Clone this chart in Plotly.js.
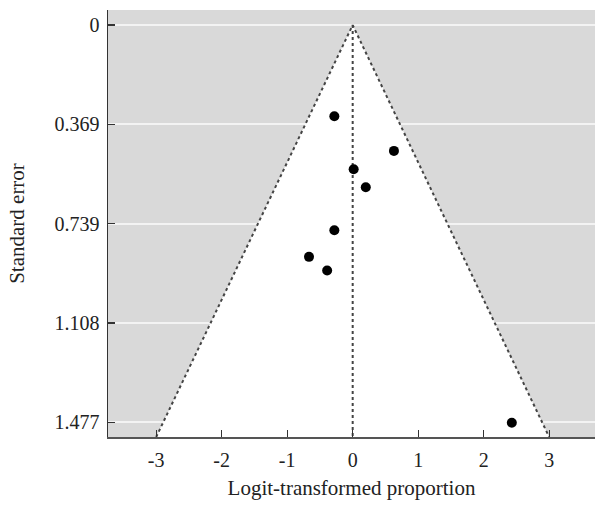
<!DOCTYPE html>
<html>
<head>
<meta charset="utf-8">
<script src="https://cdn.plot.ly/plotly-3.0.1.min.js"></script>
<style>html,body{margin:0;padding:0;background:#fff;}#chart{width:595px;height:509px;}</style>
</head>
<body>
<div id="chart"></div>
<script>
// Study points: logit-transformed proportion vs standard error
const studyLogit = [-0.28, 0.63, 0.015, 0.20, -0.28, -0.667, -0.39, 2.43];
const studySE    = [0.339, 0.468, 0.536, 0.603, 0.763, 0.862, 0.913, 1.479];

// Pseudo-confidence funnel (apex at pooled estimate, base at bottom of axis)
const funnelSE    = [1.532, 0, 1.532];
const funnelLogit = [-3.0, 0, 3.0];
const pooledLogit = [0, 0];
const pooledSE    = [0, 1.532];

// Axis ticks
const yTickVals = [0, 0.369, 0.739, 1.108, 1.477];
const yTickText = ['0', '0.369', '0.739', '1.108', '1.477'];
const xTickVals = [-3, -2, -1, 0, 1, 2, 3];
const xTickText = ['-3', '-2', '-1', '0', '1', '2', '3'];

const font = '"Liberation Serif", "Times New Roman", serif';

const traces = [
  {
    x: funnelLogit, y: funnelSE, type: 'scatter', mode: 'lines',
    fill: 'toself', fillcolor: '#ffffff',
    line: {color: '#444444', width: 2, dash: 'dot'},
    hoverinfo: 'skip', showlegend: false
  },
  {
    x: pooledLogit, y: pooledSE, type: 'scatter', mode: 'lines',
    line: {color: '#444444', width: 2, dash: 'dot'},
    hoverinfo: 'skip', showlegend: false
  },
  {
    x: studyLogit, y: studySE, type: 'scatter', mode: 'markers',
    marker: {color: '#000000', size: 10},
    showlegend: false
  }
];

const layout = {
  width: 595, height: 509,
  margin: {l: 108, r: 0, t: 10, b: 72},
  paper_bgcolor: '#ffffff',
  plot_bgcolor: '#d9d9d9',
  font: {family: font, size: 20, color: '#222222'},
  showlegend: false,
  xaxis: {
    range: [-3.736, 3.70],
    tickvals: xTickVals, ticktext: xTickText,
    tickfont: {family: font, size: 20, color: '#222222'},
    ticks: 'inside', ticklen: 7, tickwidth: 1.2, tickcolor: '#333333',
    showgrid: false, zeroline: false,
    showline: true, linecolor: '#555555', linewidth: 2,
    ticklabelstandoff: 4,
    title: {text: 'Logit-transformed proportion', font: {family: font, size: 21, color: '#222222'}, standoff: 10}
  },
  yaxis: {
    range: [1.532, -0.056],
    tickvals: yTickVals, ticktext: yTickText,
    tickfont: {family: font, size: 20, color: '#222222'},
    ticks: 'inside', ticklen: 7, tickwidth: 1.2, tickcolor: '#333333',
    showgrid: true, gridcolor: '#f3f3f3', gridwidth: 2,
    zeroline: false,
    showline: true, linecolor: '#333333', linewidth: 1.5,
    ticklabelstandoff: 3,
    title: {text: 'Standard error', font: {family: font, size: 21, color: '#222222'}, standoff: 24}
  }
};

Plotly.newPlot('chart', traces, layout, {displayModeBar: false, staticPlot: true});
</script>
</body>
</html>
